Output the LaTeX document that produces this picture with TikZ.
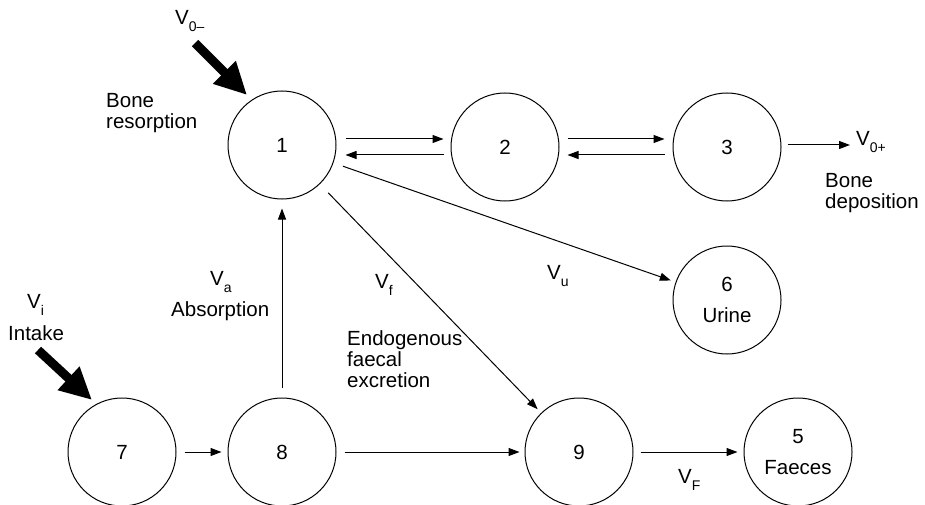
\documentclass[tikz,border=0pt]{standalone}
\usepackage{fontspec}
\setmainfont{Liberation Sans}
\usetikzlibrary{arrows.meta,calc}
\newcommand\sbs[1]{\raisebox{-7pt}{\fontsize{14}{14}\selectfont #1}}
\begin{document}
\begin{tikzpicture}[x=1pt,y=-1pt,
  every node/.style={font=\fontsize{20.5}{21}\selectfont, inner sep=0pt},
  comp/.style={draw, circle, minimum size=108pt, line width=1pt, align=center},
  arr/.style={-{Triangle[length=11pt,width=8pt]}, line width=1pt},
  bigarr/.style={-{Triangle[length=32pt,width=30pt]}, line width=9pt},
  lbl/.style={anchor=base west},
  txt/.style={anchor=north west, align=left}]
\useasboundingbox (0,0) rectangle (925,505);
% compartments
\node[comp] (c1) at (282,145) {1};
\node[comp] (c2) at (505,147) {2};
\node[comp] (c3) at (727,147) {3};
\node[comp] (c6) at (727,300) {6\\[10pt]Urine};
\node[comp] (c7) at (122,452) {7};
\node[comp] (c8) at (282,452) {8};
\node[comp] (c9) at (579,452) {9};
\node[comp] (c5) at (798,452) {5\\[10pt]Faeces};
% free ends
\coordinate (out3) at (850,145);
\coordinate (v0tail) at (195,43);
\coordinate (v0tip) at (247,95);
\coordinate (vitail) at (38,350);
\coordinate (vitip) at (92,400);
% connectors
\draw[arr] ($(c1.east |- c2)+(9,-8)$) -- ($(c2.west)+(-7,-8)$);
\draw[arr] ($(c2.west)+(-7,8)$) -- ($(c1.east |- c2)+(9,8)$);
\draw[arr] ($(c2.east)+(8,-8)$) -- ($(c3.west |- c2)+(-8,-8)$);
\draw[arr] ($(c3.west |- c2)+(-8,8)$) -- ($(c2.east)+(8,8)$);
\draw[arr] ($(c3.east)+(6,-2)$) -- (out3);
\draw[arr, shorten <=10pt, shorten >=5pt] (c1) -- (c6);
\draw[arr, shorten <=12pt, shorten >=5pt] (c1) -- (c9);
\draw[arr] ($(c8.north)+(0,-10)$) -- ($(c1.south)+(0,9)$);
\draw[arr] ($(c7.east)+(8,0)$) -- ($(c8.west)+(-6,0)$);
\draw[arr] ($(c8.east)+(8,0)$) -- ($(c9.west)+(-5,0)$);
\draw[arr] ($(c9.east)+(7,0)$) -- ($(c5.west)+(-6,0)$);
\draw[bigarr] (v0tail) -- (v0tip);
\draw[bigarr] (vitail) -- (vitip);
% labels
\node[lbl] (v0m) at (175,25) {V\sbs{0–}};
\node[txt] (bres) at (106,93) {Bone\\resorption};
\node[lbl] (v0p) at (856,146) {V\sbs{0+}};
\node[txt] (bdep) at (825,173) {Bone\\deposition};
\node[lbl] (vi) at (27,308) {V\sbs{i}};
\node[txt] (intake) at (8,325) {Intake};
\node[lbl] (va) at (210,285) {V\sbs{a}};
\node[txt] (absn) at (171,301) {Absorption};
\node[lbl] (vf) at (375,288) {V\sbs{f}};
\node[txt] (endo) at (347,330) {Endogenous\\faecal\\excretion};
\node[lbl] (vu) at (547,279) {V\sbs{u}};
\node[lbl] (vF) at (678,483) {V\sbs{F}};
\end{tikzpicture}
\end{document}
